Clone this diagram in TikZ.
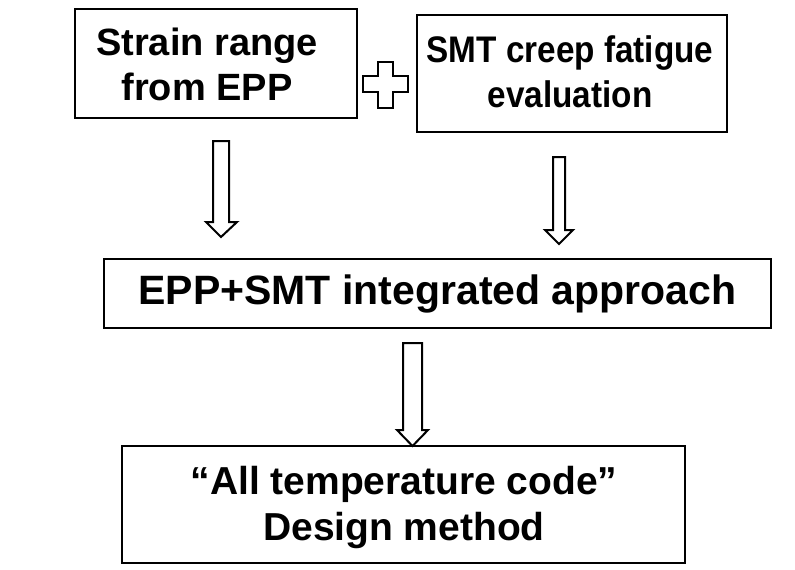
\documentclass[tikz,border=0pt]{standalone}
\usepackage{fontspec}
\setmainfont{Liberation Sans}
\newfontfamily\narrowsans[FakeStretch=0.9]{Liberation Sans}
\begin{document}
\begin{tikzpicture}[x=1pt,y=-1pt,
  box/.style={draw=black,line width=2pt,rectangle,inner sep=0pt},
  label/.style={align=center,inner sep=0pt},
  blockarrow/.style={draw=black,line width=2pt,fill=white,line join=miter}]
\useasboundingbox (0,0) rectangle (795,570);
% boxes
\node[box,minimum width=282pt,minimum height=109pt] (b1) at (216,63.5) {};
\node[box,minimum width=310pt,minimum height=117pt] (b2) at (572,73.5) {};
\node[box,minimum width=667pt,minimum height=69pt] (b3) at (437.5,293.5) {};
\node[box,minimum width=563pt,minimum height=117pt] (b4) at (403.5,504.5) {};
% texts
\node[label,font=\bfseries\fontsize{38}{45}\selectfont] (t1) at (207,64) {Strain range\\from EPP};
\node[label,font=\narrowsans\bfseries\fontsize{37}{45}\selectfont] (t2) at (570,72) {SMT creep fatigue\\evaluation};
\node[label,font=\bfseries\fontsize{41}{47}\selectfont] (t3) at (b3.center) {EPP+SMT integrated approach};
\node[label,font=\bfseries\fontsize{39}{46}\selectfont] (t4) at (404,507) {“All temperature code”\\Design method};
% plus sign
\draw[blockarrow] (378,62) -- (393,62) -- (393,76) -- (408,76) -- (408,92) -- (393,92) -- (393,108)
  -- (378,108) -- (378,92) -- (363,92) -- (363,76) -- (378,76) -- cycle;
% block arrows
\draw[blockarrow] (213,141) -- (229,141) -- (229,222) -- (237,222) -- (221,237) -- (206,222) -- (213,222) -- cycle;
\draw[blockarrow] (553,157) -- (565,157) -- (565,230) -- (573,230) -- (559,244) -- (545,230) -- (553,230) -- cycle;
\draw[blockarrow] (403,343) -- (422,343) -- (422,430) -- (428,430) -- (412.5,446) -- (397,430) -- (403,430) -- cycle;
\end{tikzpicture}
\end{document}
